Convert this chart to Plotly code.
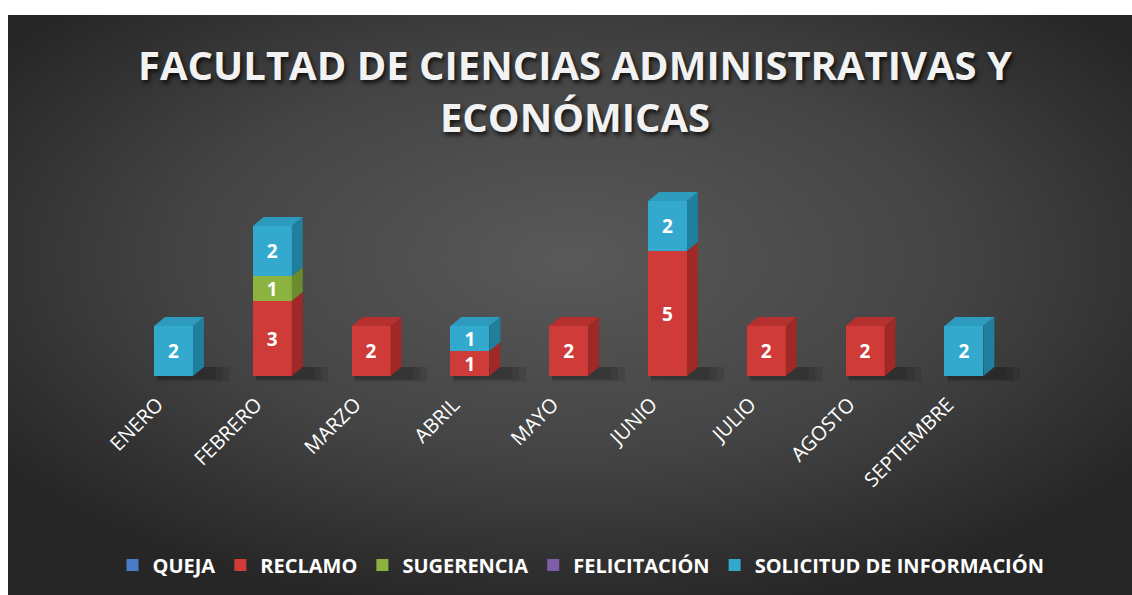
import base64
import plotly.graph_objects as go

# ---------------- data ----------------
months = ["ENERO", "FEBRERO", "MARZO", "ABRIL", "MAYO", "JUNIO", "JULIO", "AGOSTO", "SEPTIEMBRE"]
queja = [0, 0, 0, 0, 0, 0, 0, 0, 0]
reclamo = [0, 3, 2, 1, 2, 5, 2, 2, 0]
sugerencia = [0, 1, 0, 0, 0, 0, 0, 0, 0]
felicitacion = [0, 0, 0, 0, 0, 0, 0, 0, 0]
solicitud = [2, 2, 0, 1, 0, 2, 0, 0, 2]
series_names = ["QUEJA", "RECLAMO", "SUGERENCIA", "FELICITACIÓN", "SOLICITUD DE INFORMACIÓN"]
title_text = "FACULTAD DE CIENCIAS ADMINISTRATIVAS Y<br>ECONÓMICAS"

# ---------------- style ----------------
W, H = 1132, 595
ML, MR, MT, MB = 30, 30, 176, 204
PXU = 98.8                      # pixels per category
X0 = 173.5                      # pixel of first category
FONT = "Open Sans"
front = ["#4A7BC8", "#CE3B38", "#8CB23F", "#7E5EA8", "#33A9CE"]
side = ["#365E9E", "#9E2926", "#6C8A2E", "#5E4482", "#1F7F9D"]
top = ["#4270B8", "#B5302E", "#7FA236", "#6F519A", "#2D9BBE"]
BW = 0.394   # bar front width (category units)
DX = 0.111   # depth offset x (category units)
DY = 0.36    # depth offset y (value units)

values = [queja, reclamo, sugerencia, felicitacion, solicitud]
xs = list(range(len(months)))

fig = go.Figure()
for i, (name, vals) in enumerate(zip(series_names, values)):
    fig.add_trace(go.Bar(
        x=xs, y=[v if v else None for v in vals], name=name, width=BW,
        marker=dict(color=front[i], line=dict(width=0)),
        text=[str(v) if v else "" for v in vals], textposition="inside",
        insidetextanchor="middle", textangle=0, constraintext="none",
        textfont=dict(family=FONT, size=19, color="white", weight="bold"),
        hoverinfo="skip",
    ))

# 3D faces computed from the data in axis coordinates
shapes = []
for j, xc in enumerate(xs):
    total = sum(v[j] for v in values)
    if total == 0:
        continue
    xl, xr = xc - BW / 2, xc + BW / 2
    # soft shadow at the base
    for k, op in enumerate([0.10, 0.10, 0.10]):
        shapes.append(dict(type="path", xref="x", yref="y", layer="below",
                           path=f"M{xl + 0.03},{-0.12 - 0.05 * k} L{xr + DX + 0.12 + 0.07 * k},{-0.12 - 0.05 * k} "
                                f"L{xr + DX + 0.12 + 0.07 * k},{DY} L{xl + 0.03},{DY} Z",
                           fillcolor=f"rgba(0,0,0,{op})", line=dict(width=0)))
    base = 0
    last = None
    for i, vals in enumerate(values):
        v = vals[j]
        if not v:
            continue
        y0, y1 = base, base + v
        shapes.append(dict(type="path", xref="x", yref="y", layer="above",
                           path=f"M{xr},{y0} L{xr + DX},{y0 + DY} L{xr + DX},{y1 + DY} L{xr},{y1} Z",
                           fillcolor=side[i], line=dict(width=0)))
        base = y1
        last = i
    shapes.append(dict(type="path", xref="x", yref="y", layer="above",
                       path=f"M{xl},{base} L{xl + DX},{base + DY} L{xr + DX},{base + DY} L{xr},{base} Z",
                       fillcolor=top[last], line=dict(width=0)))

# gradient background frame
plot_w = W - ML - MR
plot_h = H - MT - MB
svg = ('<svg xmlns="http://www.w3.org/2000/svg" width="1124" height="580" viewBox="0 0 1124 580" '
       'preserveAspectRatio="none"><defs><radialGradient id="g" cx="0.5" cy="0.42" r="0.62">'
       '<stop offset="0" stop-color="#595959"/><stop offset="0.55" stop-color="#444444"/>'
       '<stop offset="1" stop-color="#262626"/></radialGradient></defs>'
       '<rect width="1124" height="580" fill="url(#g)"/></svg>')
src = "data:image/svg+xml;base64," + base64.b64encode(svg.encode()).decode()
img = dict(source=src, xref="paper", yref="paper",
           x=(8 - ML) / plot_w, y=(H - MB - 15) / plot_h,
           sizex=(W - 8) / plot_w, sizey=(H - 15) / plot_h,
           xanchor="left", yanchor="top", sizing="stretch", layer="below")

xr0 = (ML - X0) / PXU
xr1 = xr0 + plot_w / PXU

fig.update_layout(
    width=W, height=H, barmode="stack",
    margin=dict(l=ML, r=MR, t=MT, b=MB, pad=0),
    paper_bgcolor="white", plot_bgcolor="rgba(0,0,0,0)",
    images=[img], shapes=shapes,
    uniformtext=dict(minsize=19, mode="show"),
    title=dict(text=title_text, x=575 / W, xanchor="center", xref="container",
               y=1 - 80 / H, yanchor="middle", yref="container",
               font=dict(family=FONT, size=40, color="#F2F2F2", weight="bold",
                         shadow="2px 3px 4px rgba(0,0,0,0.75)")),
    xaxis=dict(range=[xr0, xr1], tickvals=xs, ticktext=months, tickangle=-45,
               showgrid=False, zeroline=False, showline=False, ticks="",
               ticklabelshift=-16, ticklabelstandoff=-3,
               tickfont=dict(family=FONT, size=20, color="white"), fixedrange=True),
    yaxis=dict(range=[-0.6, 8], visible=False, showgrid=False, zeroline=False, fixedrange=True),
    legend=dict(orientation="h", xref="container", yref="container", x=581 / W, xanchor="center",
                y=1 - 565 / H, yanchor="middle", traceorder="normal",
                font=dict(family=FONT, size=20, color="white", weight="bold"),
                itemwidth=30, bgcolor="rgba(0,0,0,0)"),
    showlegend=True,
)

fig.write_html("out.html", config={"displayModeBar": False},
               post_script="document.body.style.margin='0';document.body.style.overflow='hidden';")
